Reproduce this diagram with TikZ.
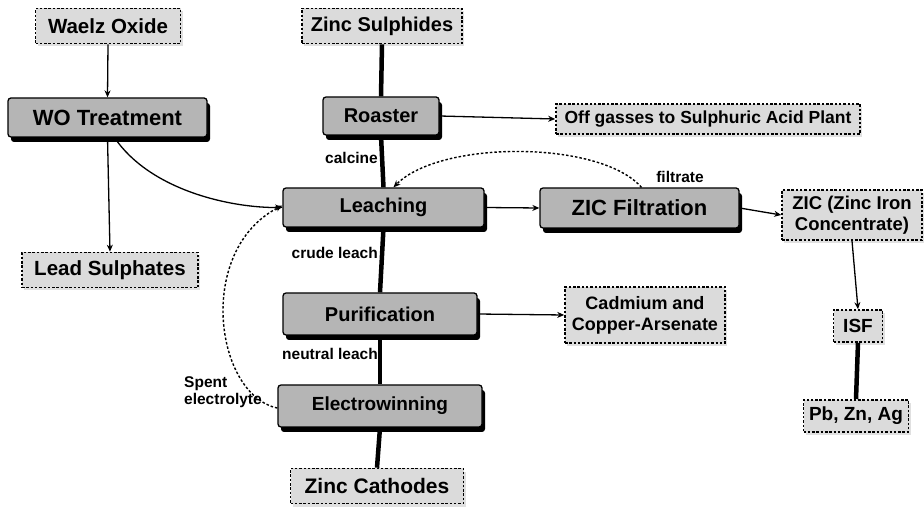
\documentclass[tikz,border=0pt]{standalone}
\usepackage{fontspec}
\setmainfont{Liberation Sans}
\usetikzlibrary{shadows,arrows.meta}
\newcommand\fsz[1]{\bfseries\fontsize{#1}{#1}\selectfont}
\begin{document}
\begin{tikzpicture}[x=1pt,y=-1pt,
  proc/.style={draw=black, line width=1.3pt, fill=gray!58, rounded corners=3pt,
    drop shadow={shadow xshift=3pt, shadow yshift=-5pt, fill=black, opacity=1},
    font=\fsz{20}, inner sep=0pt, anchor=center},
  store/.style={draw=black, dash pattern=on 2.5pt off 1.8pt, line width=1.6pt, fill=gray!28,
    drop shadow={shadow xshift=2pt, shadow yshift=-3pt, fill=gray!40, opacity=0.6},
    font=\fsz{19}, inner sep=0pt, align=center, anchor=center},
  tag/.style={font=\fsz{15.5}, inner sep=0pt},
  feed/.style={line width=1.3pt, -{Stealth[length=7pt,width=6pt]}},
  main/.style={line width=4.5pt},
  recycle/.style={line width=1.4pt, dash pattern=on 2.5pt off 2pt, -{Stealth[length=7pt,width=6pt]}}
]
\useasboundingbox (0,0) rectangle (924,510);

% process units
\node[proc, font=\fsz{22}, minimum width=199pt, minimum height=39pt] (wo) at (107.5,117.5) {WO Treatment};
\node[proc, minimum width=116pt, minimum height=38pt] (roaster) at (381,116) {Roaster};
\node[proc, minimum width=201pt, minimum height=39pt] (leach) at (383.5,207.5) {Leaching};
\node[proc, font=\fsz{22}, minimum width=199pt, minimum height=40pt] (zicf) at (639.5,208) {ZIC Filtration};
\node[proc, minimum width=194pt, minimum height=42pt] (purif) at (380,314) {Purification};
\node[proc, font=\fsz{19}, minimum width=204pt, minimum height=42pt] (elec) at (380,406) {Electrowinning};

% inputs and products
\node[store, font=\fsz{20.5}, minimum width=145pt, minimum height=35pt] (waelz) at (108,26) {Waelz Oxide};
\node[store, font=\fsz{20}, minimum width=160pt, minimum height=35pt] (zincs) at (382,26) {Zinc Sulphides};
\node[store, font=\fsz{17.5}, minimum width=304pt, minimum height=30pt] (offg) at (708,119) {Off gasses to Sulphuric Acid Plant};
\node[store, font=\fsz{18.5}, minimum width=140pt, minimum height=50pt] (zic) at (852,215) {ZIC (Zinc Iron\\[2pt]Concentrate)};
\node[store, font=\fsz{20.5}, minimum width=176pt, minimum height=35pt] (lead) at (110,270) {Lead Sulphates};
\node[store, font=\fsz{18}, minimum width=160pt, minimum height=56pt] (cad) at (645,315) {Cadmium and\\[3pt]Copper-Arsenate};
\node[store, minimum width=49pt, minimum height=32pt] (isf) at (858,326) {ISF};
\node[store, minimum width=105pt, minimum height=32pt] (pb) at (856,416) {Pb, Zn, Ag};
\node[store, font=\fsz{21}, minimum width=173pt, minimum height=35pt] (zcath) at (377,486) {Zinc Cathodes};

% stream labels
\node[tag, anchor=east] (calc) at (378,158) {calcine};
\node[tag, anchor=east] (crude) at (378,253) {crude leach};
\node[tag, anchor=east] (neut) at (378,354) {neutral leach};
\node[tag] (filt) at (680,177) {filtrate};
\node[tag, align=left, anchor=west] (spent) at (184,392) {Spent\\[2pt]electrolyte};

% main zinc line
\draw[main] (zincs.south) -- (roaster.north);
\draw[main] (roaster.south) -- (leach.north);
\draw[main] (leach.south) -- (purif.north);
\draw[main] (purif.south) -- (elec.north);
\draw[main] (elec.south) -- (zcath.north);
\draw[main] (isf.south) -- (pb.north);

% side streams
\draw[feed] (waelz.south) -- (wo.north);
\draw[feed] (wo.south) -- (lead.north);
\draw[feed] ([xshift=7pt]wo.south) .. controls (150,190) and (230,208) .. (leach.west);
\draw[feed] (roaster.east) -- (offg.west);
\draw[feed] (leach.east) -- (zicf.west);
\draw[feed] (zicf.east) -- (zic.west);
\draw[feed] (zic.south) -- (isf.north);
\draw[feed] (purif.east) -- (cad.west);

% recycles
\draw[recycle] ([xshift=2pt]zicf.north) .. controls (600,140) and (440,140) .. ([xshift=10pt]leach.north);
\draw[recycle] ([yshift=-2pt]elec.west) .. controls (215,395) and (195,250) .. ([yshift=2pt]leach.west);
\end{tikzpicture}
\end{document}
